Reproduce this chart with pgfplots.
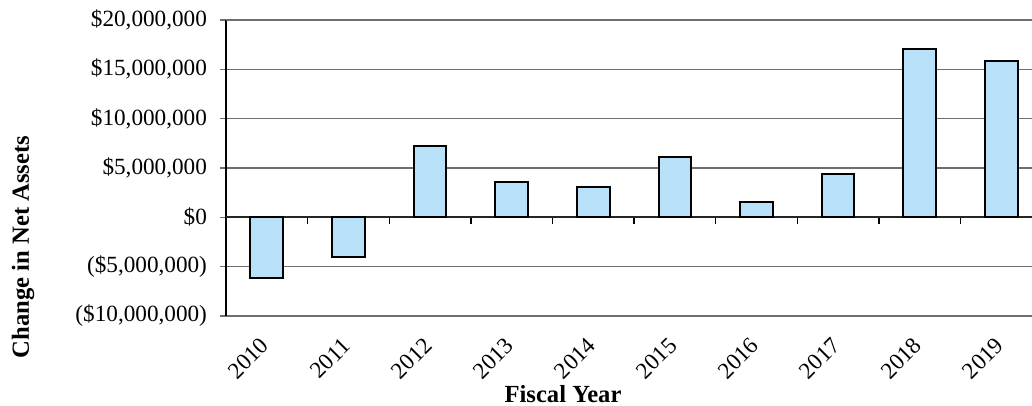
\documentclass[border=0pt]{standalone}
\usepackage{pgfplots}
\pgfplotsset{compat=1.18}
\usepackage{fontspec}
\setmainfont{Liberation Serif}
\definecolor{barfill}{HTML}{B8E0F8}
\definecolor{gridgray}{HTML}{6E6E6E}

\begin{document}
\begin{tikzpicture}
\useasboundingbox (0,0) rectangle (516pt,203pt);
\begin{axis}[
    at={(113pt,45pt)}, anchor=south west,
    scale only axis,
    width=403pt, height=148pt,
    xmin=-0.5, xmax=9.375,
    ymin=-10000000, ymax=20000000,
    scaled y ticks=false,
    ytick={-10000000,-5000000,0,5000000,10000000,15000000,20000000},
    yticklabels={{(\$10,000,000)},{(\$5,000,000)},{\$0},{\$5,000,000},{\$10,000,000},{\$15,000,000},{\$20,000,000}},
    xtick={0,...,9},
    xticklabels={2010,2011,2012,2013,2014,2015,2016,2017,2018,2019},
    x tick label style={xshift=1.5pt, yshift=-7.5pt, rotate=45, anchor=east, font=\fontsize{11.6}{12}\selectfont},
    y tick label style={font=\fontsize{11.6}{12}\selectfont, xshift=-3pt},
    major x tick style={draw=none},
    major y tick style={draw=gridgray, line width=0.8pt},
    tick align=outside,
    major tick length=3pt,
    ymajorgrids,
    grid style={draw=gridgray, line width=0.8pt},
    axis x line*=bottom,
    axis y line*=left,
    x axis line style={draw=gridgray, line width=1.1pt, -},
    y axis line style={draw=black, line width=1pt, -},
    clip=false,
]
% category separators along the zero line
\pgfplotsinvokeforeach{0.5,1.5,2.5,3.5,4.5,5.5,6.5,7.5,8.5}{
    \draw[black, line width=0.7pt] (axis cs:#1,0) -- ([yshift=-3.5pt]axis cs:#1,0);
}
\draw[gridgray, line width=1.1pt] (axis cs:-0.5,20000000) -- (axis cs:9.375,20000000);
\draw[black!85, line width=0.9pt] (axis cs:-0.5,0) -- (axis cs:9.375,0);
\addplot[ybar, bar width=0.4, fill=barfill, draw=black, line width=1pt]
coordinates {
    (0,-6100000)
    (1,-4000000)
    (2,7200000)
    (3,3600000)
    (4,3100000)
    (5,6100000)
    (6,1600000)
    (7,4400000)
    (8,17100000)
    (9,15800000)
};
\end{axis}
\node[rotate=90, font=\bfseries\fontsize{12.3}{14}\selectfont] at (11.5pt,79.5pt) {Change in Net Assets};
\node[anchor=base, font=\bfseries\fontsize{12.3}{14}\selectfont] at (281.5pt,1.5pt) {Fiscal Year};
\end{tikzpicture}
\end{document}
